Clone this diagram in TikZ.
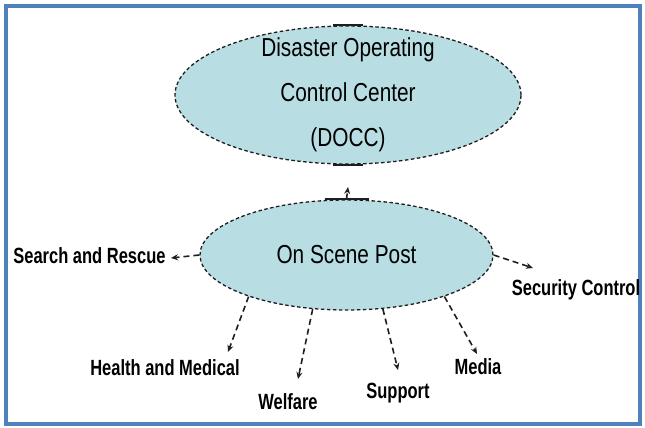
\documentclass[tikz,border=0pt]{standalone}
\usepackage{fontspec}
\setmainfont[FakeStretch=0.8]{Liberation Sans}
\newfontfamily\lblfont[FakeStretch=0.75]{Liberation Sans}
\usetikzlibrary{shapes.geometric,arrows.meta}
\definecolor{framecol}{RGB}{79,129,189}
\definecolor{ovalfill}{RGB}{184,222,227}
\definecolor{inkcol}{RGB}{30,30,30}
\tikzset{
  oval/.style={ellipse, draw=inkcol, fill=ovalfill, line width=1.3pt,
    dash pattern=on 3.5pt off 2.5pt, inner sep=0pt},
  bigtext/.style={font=\fontsize{26}{45}\selectfont, text=black, align=center},
  lbl/.style={font=\lblfont\bfseries\fontsize{22}{24}\selectfont, text=black, inner sep=0pt},
  link/.style={draw=inkcol, line width=1.6pt, dash pattern=on 6pt off 4pt,
    -{Stealth[length=7pt,width=6pt]}},
  seam/.style={draw=inkcol, line width=2pt}
}
\begin{document}
\begin{tikzpicture}[x=1pt,y=-1pt]
  \useasboundingbox (0,0) rectangle (645,428);
  \fill[white] (0,0) rectangle (645,428);
  % outer frame
  \draw[framecol, line width=3.5pt] (6,6) rectangle (640,424);

  % the two ovals
  \node[oval, minimum width=346pt, minimum height=138pt] (docc) at (348,95) {};
  \node[bigtext] (docctext) at (docc.center) {Disaster Operating\\Control Center\\(DOCC)};
  \node[oval, bigtext, minimum width=293pt, minimum height=110pt] (osp) at (346.5,255) {On Scene Post};

  % solid seams on the oval borders
  \draw[seam] ([xshift=-15pt]docc.north) -- ([xshift=15pt]docc.north);
  \draw[seam] ([xshift=-15pt]docc.south) -- ([xshift=15pt]docc.south);
  \draw[seam] ([xshift=-22pt]osp.north) -- ([xshift=22pt]osp.north);

  % labels
  \node[lbl] (sr)  at (89.5,256) {Search and Rescue};
  \node[lbl] (hm)  at (165,368)  {Health and Medical};
  \node[lbl] (wf)  at (288,402)  {Welfare};
  \node[lbl] (sp)  at (398,393)  {Support};
  \node[lbl] (md)  at (478,367)  {Media};
  \node[lbl] (sc)  at (576,290)  {Security Control};

  % arrow end points
  \coordinate (up) at (348,187);
  \coordinate (srend) at (171,258);
  \coordinate (hmend) at (228,352);
  \coordinate (wfend) at (298,379);
  \coordinate (spend) at (398,370);
  \coordinate (mdend) at (477,354);
  \coordinate (scend) at (533,268);

  % connectors
  \draw[link] (osp.north) -- (up);
  \draw[link] (osp.west) -- (srend);
  \draw[link] (osp.203) -- (hmend);
  \draw[link] (osp.238) -- (wfend);
  \draw[link] (osp.304) -- (spend);
  \draw[link] (osp.337) -- (mdend);
  \draw[link] (osp.east) -- (scend);
\end{tikzpicture}
\end{document}
